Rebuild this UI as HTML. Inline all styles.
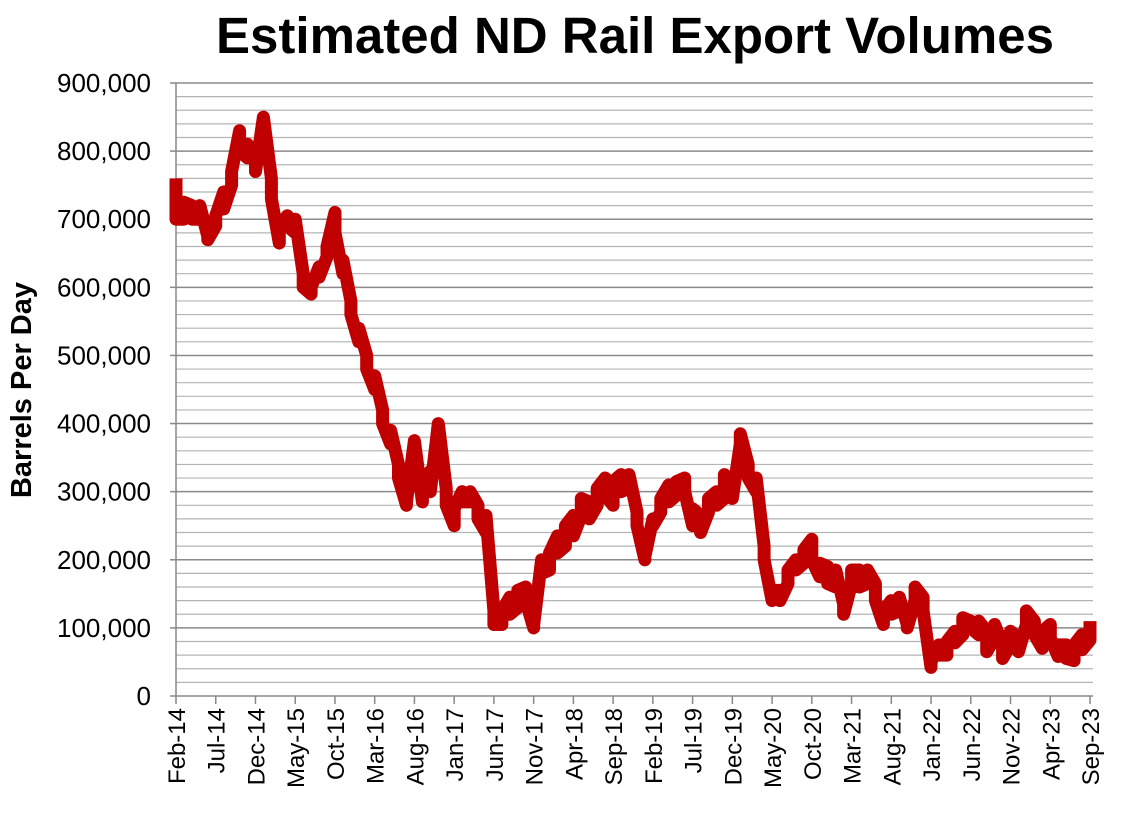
<!DOCTYPE html>
<html><head><meta charset="utf-8"><style>
body{margin:0;background:#fff;}
svg text{font-family:"Liberation Sans",Arial,sans-serif;}
</style></head><body>
<svg id="chart" width="1136" height="821" viewBox="0 0 1136 821" xmlns="http://www.w3.org/2000/svg">
<text x="635" y="53" text-anchor="middle" font-size="51" font-weight="bold">Estimated ND Rail Export Volumes</text>
<text transform="translate(31,390) rotate(-90)" text-anchor="middle" font-size="29" font-weight="bold">Barrels Per Day</text>
<g id="grid"></g><g id="axes"></g><g id="series"></g>
</svg>
<script>
const monthLabels=["Feb-14","Jul-14","Dec-14","May-15","Oct-15","Mar-16","Aug-16","Jan-17","Jun-17","Nov-17","Apr-18","Sep-18","Feb-19","Jul-19","Dec-19","May-20","Oct-20","Mar-21","Aug-21","Jan-22","Jun-22","Nov-22","Apr-23","Sep-23"];
const yTicks=[0,100000,200000,300000,400000,500000,600000,700000,800000,900000];
const hiValues=[760,725,720,720,675,705,740,770,830,810,790,850,760,690,705,700,620,600,630,660,710,640,580,540,500,470,420,390,340,285,375,305,330,400,305,275,300,300,280,265,125,125,145,155,160,105,200,210,235,250,265,290,285,305,320,315,325,325,270,205,260,290,310,315,320,275,265,290,300,325,305,385,340,320,220,155,155,185,200,215,230,195,190,185,135,185,185,185,165,125,140,145,105,160,145,50,75,80,95,115,110,110,95,105,75,95,85,125,110,95,105,75,75,75,90,110];
const loValues=[700,700,700,700,670,690,715,750,800,790,770,850,730,665,690,680,600,590,615,645,680,620,560,520,480,450,400,370,320,280,375,285,300,400,280,250,285,285,260,240,105,105,120,130,140,100,180,185,210,220,235,265,260,280,295,280,300,305,250,200,250,270,285,295,300,250,240,270,280,290,290,370,320,300,200,140,140,165,185,195,200,175,165,160,120,165,160,165,140,105,120,125,100,140,125,42,60,60,78,90,100,90,65,85,55,75,65,105,90,70,85,58,55,52,68,82];
const NS="http://www.w3.org/2000/svg";
const X0=176,X1=1090,Y0=696,YT=83,XR=1093;
const n=hiValues.length;
function xs(i){return X0+i*(X1-X0)/(n-1);}
function ys(v){return Y0-(v/900000)*(Y0-YT);}
const grid=document.getElementById('grid'),axes=document.getElementById('axes'),series=document.getElementById('series');
function mk(tag,attrs,parent){const e=document.createElementNS(NS,tag);for(const k in attrs)e.setAttribute(k,attrs[k]);parent.appendChild(e);return e;}
for(let v=20000;v<=900000;v+=20000){
  const major=v%100000===0;
  const l=mk('line',{x1:X0,x2:XR,y1:ys(v),y2:ys(v),stroke:major?'#8a8a8a':'#b4b4b4','stroke-width':major?1.5:1.2},grid);
  
  
}
const ya=mk('line',{x1:X0,x2:X0,y1:YT,y2:Y0,stroke:'#888','stroke-width':1.5},axes);


const xa=mk('line',{x1:X0,x2:XR,y1:Y0,y2:Y0,stroke:'#888','stroke-width':1.5},axes);


yTicks.forEach(v=>{
  const t=mk('text',{x:151,y:ys(v)+9,'text-anchor':'end','font-size':26},axes);
  t.textContent=v.toLocaleString('en-US');
  
  
  const tk=mk('line',{x1:X0-6,x2:X0,y1:ys(v),y2:ys(v),stroke:'#888','stroke-width':1.5},axes);
  
  
});
monthLabels.forEach((lab,k)=>{
  const x=xs(k*5);
  const tk=mk('line',{x1:x,x2:x,y1:Y0,y2:Y0+8,stroke:'#888','stroke-width':1.5},axes);
  
  
  const t=mk('text',{transform:`translate(${x+9},${Y0+12}) rotate(-90)`,'text-anchor':'end','font-size':24},axes);
  t.textContent=lab;
  
  
});
let d='';
for(let i=0;i<n;i++){
  const a=i%2===0?[hiValues[i],loValues[i]]:[loValues[i],hiValues[i]];
  d+=(i===0?'M':'L')+xs(i).toFixed(1)+','+ys(a[0]*1000).toFixed(1)+'L'+xs(i).toFixed(1)+','+ys(a[1]*1000).toFixed(1);
}
const p=mk('path',{d:d,fill:'none',stroke:'#c00000','stroke-width':13,'stroke-linejoin':'round'},series);


</script>
</body></html>
